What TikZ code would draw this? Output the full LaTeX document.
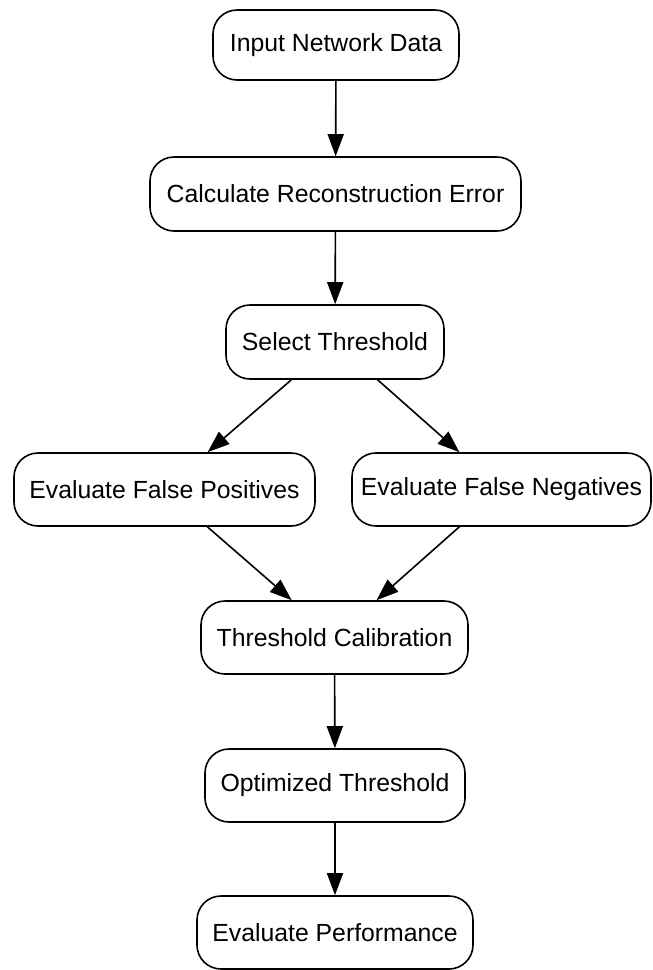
\documentclass[tikz,border=0pt]{standalone}
\usepackage{fontspec}
\setmainfont{Liberation Sans}
\usetikzlibrary{arrows.meta}
\begin{document}
\begin{tikzpicture}[x=1pt,y=-1pt,
  box/.style={draw=black, line width=1.6pt, rounded corners=24pt, fill=white,
    inner sep=0pt, font=\fontsize{24.8}{28}\selectfont, align=center},
  arr/.style={draw=black, line width=1.6pt, -{Triangle[length=22pt,width=16pt]}}]
\useasboundingbox (0,0) rectangle (653,970);
\node[box, minimum width=246pt, minimum height=70pt] (n1) at (336,45) {Input Network Data};
\node[box, minimum width=371pt, minimum height=74pt] (n2) at (335.5,194) {Calculate Reconstruction Error};
\node[box, minimum width=218pt, minimum height=74pt] (n3) at (335,342) {Select Threshold};
\node[box, minimum width=301pt, minimum height=73pt] (n4) at (164.5,489.5) {Evaluate False Positives};
\node[box, minimum width=299pt, minimum height=73pt] (n5) at (501.5,489.5) {Evaluate False Negatives};
\node[box, minimum width=267pt, minimum height=73pt] (n6) at (334.5,637.5) {Threshold Calibration};
\node[box, minimum width=260pt, minimum height=73pt] (n7) at (335,785.5) {Optimized Threshold};
\node[box, minimum width=276pt, minimum height=73pt] (n8) at (335,932.5) {Evaluate Performance};
\draw[arr] (n1) -- (n2);
\draw[arr] (n2) -- (n3);
\draw[arr] (n3) -- (n4);
\draw[arr] (n3) -- (n5);
\draw[arr] (n4) -- (n6);
\draw[arr] (n5) -- (n6);
\draw[arr] (n6) -- (n7);
\draw[arr] (n7) -- (n8);
\end{tikzpicture}
\end{document}
